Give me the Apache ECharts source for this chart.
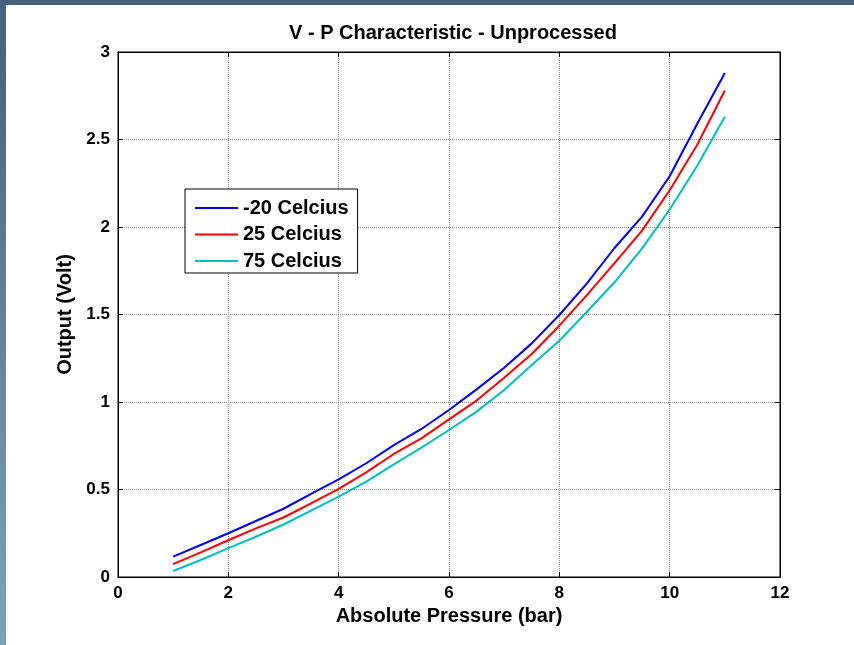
<!DOCTYPE html>
<html>
<head>
<meta charset="utf-8">
<script src="https://cdn.jsdelivr.net/npm/echarts@6/dist/echarts.min.js"></script>
<style>
  html, body { margin: 0; padding: 0; background: #fff; }
  #chart { width: 854px; height: 645px; }
</style>
</head>
<body>
<div id="chart"></div>
<script>
// absolute pressure (bar)
const pressure = [1, 1.5, 2, 2.5, 3, 3.5, 4, 4.5, 5, 5.5, 6, 6.5, 7, 7.5, 8, 8.5, 9, 9.5, 10, 10.5, 11]
// output (Volt) at each temperature
const minus20 = [0.116, 0.183, 0.25, 0.32, 0.39, 0.475, 0.558, 0.65, 0.754, 0.846, 0.954, 1.072, 1.196, 1.335, 1.497, 1.678, 1.88, 2.059, 2.29, 2.59, 2.88]
const plus25 = [0.074, 0.141, 0.21, 0.278, 0.34, 0.421, 0.503, 0.598, 0.703, 0.792, 0.901, 1.008, 1.139, 1.274, 1.436, 1.611, 1.794, 1.979, 2.21, 2.47, 2.78]
const plus75 = [0.034, 0.097, 0.165, 0.23, 0.3, 0.379, 0.459, 0.545, 0.644, 0.739, 0.84, 0.945, 1.069, 1.211, 1.35, 1.516, 1.684, 1.878, 2.1, 2.35, 2.63]
const seriesNames = ['-20 Celcius', '25 Celcius', '75 Celcius']
const seriesColors = ['#0000ff', '#ff0000', '#00bfbf']

const fontFamily = `'Liberation Sans', Arial, Helvetica, sans-serif`

const pairs = (ys) => pressure.map((p, i) => [p, ys[i]])

const tickStyle = { show: true, inside: true, length: 5, lineStyle: { color: '#000' } }
const gridLine = { show: true, lineStyle: { color: '#8c8c8c', type: 'dotted', width: 1 } }

const option = {
  animation: false,
  backgroundColor: '#fff',
  graphic: [
    { type: 'rect', left: 0, top: 0, shape: { width: 854, height: 5 }, style: { fill: '#46607e' }, silent: true },
    {
      type: 'rect', left: 0, top: 0, shape: { width: 6, height: 645 }, silent: true,
      style: {
        fill: new echarts.graphic.LinearGradient(0, 0, 0, 1, [
          { offset: 0, color: '#46607e' },
          { offset: 1, color: '#80a0ba' }
        ])
      }
    }
  ],
  title: {
    text: 'V - P Characteristic - Unprocessed',
    left: 448,
    top: 18,
    textAlign: 'center',
    textStyle: { color: '#000', fontWeight: 'bold', fontSize: 20, fontFamily: fontFamily }
  },
  legend: {
    data: seriesNames,
    orient: 'vertical',
    left: 185,
    top: 189,
    padding: [9, 9, 2, 10],
    itemGap: 6.5,
    itemWidth: 43,
    itemHeight: 2,
    icon: 'rect',
    borderColor: '#000',
    borderWidth: 1,
    backgroundColor: '#fff',
    selectedMode: false,
    textStyle: { color: '#000', fontWeight: 'bold', fontSize: 20, lineHeight: 20, fontFamily: fontFamily }
  },
  grid: {
    left: 118,
    right: 74,
    top: 52,
    bottom: 68,
    show: true,
    borderColor: '#000',
    borderWidth: 1,
    containLabel: false
  },
  xAxis: [{
    type: 'value',
    min: 0,
    max: 12,
    interval: 2,
    name: 'Absolute Pressure (bar)',
    nameLocation: 'middle',
    nameGap: 28,
    nameTextStyle: { color: '#000', fontWeight: 'bold', fontSize: 20, fontFamily: fontFamily },
    axisLine: { show: true, onZero: false, lineStyle: { color: '#000' } },
    axisTick: tickStyle,
    axisLabel: { color: '#000', fontWeight: 'bold', fontSize: 17, margin: 8, fontFamily: fontFamily },
    splitLine: gridLine
  }, {
    type: 'value',
    position: 'top',
    min: 0,
    max: 12,
    interval: 2,
    axisLine: { show: true, onZero: false, lineStyle: { color: '#000' } },
    axisTick: tickStyle,
    axisLabel: { show: false },
    splitLine: { show: false }
  }],
  yAxis: [{
    type: 'value',
    min: 0,
    max: 3,
    interval: 0.5,
    name: 'Output (Volt)',
    nameLocation: 'middle',
    nameGap: 42,
    nameTextStyle: { color: '#000', fontWeight: 'bold', fontSize: 20, fontFamily: fontFamily },
    axisLine: { show: true, onZero: false, lineStyle: { color: '#000' } },
    axisTick: tickStyle,
    axisLabel: { color: '#000', fontWeight: 'bold', fontSize: 17, margin: 8, fontFamily: fontFamily },
    splitLine: gridLine
  }, {
    type: 'value',
    position: 'right',
    min: 0,
    max: 3,
    interval: 0.5,
    axisLine: { show: true, onZero: false, lineStyle: { color: '#000' } },
    axisTick: tickStyle,
    axisLabel: { show: false },
    splitLine: { show: false }
  }],
  series: [minus20, plus25, plus75].map((ys, i) => ({
    name: seriesNames[i],
    type: 'line',
    xAxisIndex: 0,
    yAxisIndex: 0,
    showSymbol: false,
    smooth: false,
    lineStyle: { color: seriesColors[i], width: 2 },
    itemStyle: { color: seriesColors[i] },
    data: pairs(ys)
  }))
}

const chart = echarts.init(document.getElementById('chart'))
chart.setOption(option)
</script>
</body>
</html>
